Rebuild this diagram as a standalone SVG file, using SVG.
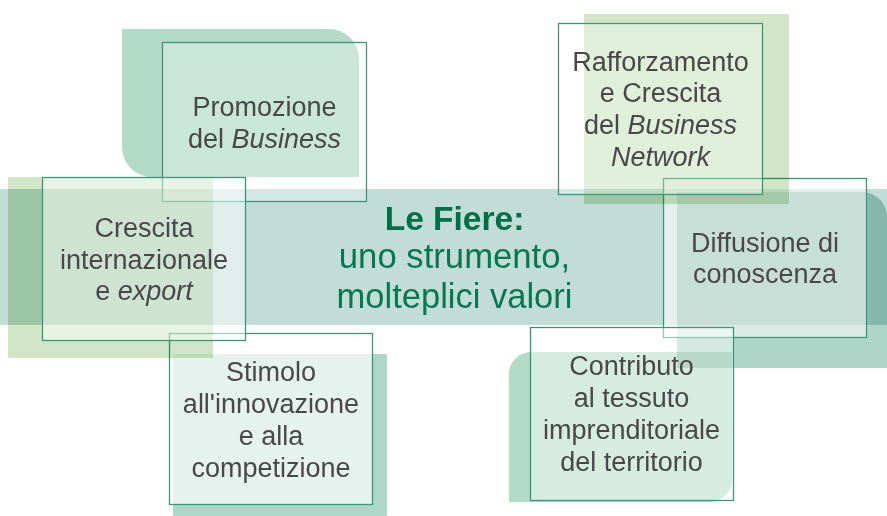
<svg xmlns="http://www.w3.org/2000/svg" width="887" height="516" viewBox="0 0 887 516">
<style>
.bk{mix-blend-mode:multiply}
.box{fill:#ffffff;stroke:#3a9878;stroke-width:1.3}
.t{font-family:"Liberation Sans",Arial,sans-serif;font-size:27px;fill:#484848;text-anchor:middle}
.i{font-style:italic}
.c{font-family:"Liberation Sans",Arial,sans-serif;fill:#06774e;text-anchor:middle}
</style>
<rect width="887" height="516" fill="#ffffff"/>
<rect id="band" x="0" y="189" width="887" height="136" fill="#c2ddd6"/>

<g id="stimolo">
<rect class="bk" x="173" y="354" width="214" height="162" fill="#b0d5c9"/>
<rect class="box" x="169.5" y="333.5" width="203" height="171" fill-opacity="0.68"/>
<text class="t"><tspan x="271" y="381">Stimolo</tspan><tspan x="271" y="413">all'innovazione</tspan><tspan x="271" y="445">e alla</tspan><tspan x="271" y="477">competizione</tspan></text>
</g>

<g id="promozione">
<path class="bk" d="M122,29 H329 A30,30 0 0 1 359,59 V177 H152 A30,30 0 0 1 122,147 Z" fill="#b2dcc7"/>
<rect class="box" x="162.5" y="42.5" width="204" height="159" fill-opacity="0.3"/>
<text class="t"><tspan x="264.5" y="116">Promozione</tspan><tspan x="264.5" y="148">del <tspan class="i">Business</tspan></tspan></text>
</g>

<g id="crescita">
<rect class="bk" x="8" y="177" width="205" height="181" fill="#d0e6c6"/>
<rect class="box" x="42.5" y="177.5" width="203" height="163" fill-opacity="0.5"/>
<text class="t"><tspan x="144" y="237">Crescita</tspan><tspan x="144" y="269">internazionale</tspan><tspan x="144" y="300">e <tspan class="i">export</tspan></tspan></text>
</g>

<g id="diffusione">
<path class="bk" d="M677,192 H862 A25,25 0 0 1 887,217 V368 H677 Z" fill="#afd5c8"/>
<rect class="box" x="663.5" y="178.5" width="203" height="159" fill-opacity="0.55"/>
<text class="t"><tspan x="765" y="252">Diffusione di</tspan><tspan x="765" y="283">conoscenza</tspan></text>
</g>

<g id="rafforzamento">
<rect class="bk" x="584" y="14" width="205" height="190" fill="#d0e6c6"/>
<rect class="box" x="558.5" y="23.5" width="204" height="171" fill-opacity="0.35"/>
<text class="t"><tspan x="660.5" y="71">Rafforzamento</tspan><tspan x="660.5" y="102">e Crescita</tspan><tspan x="660.5" y="134">del <tspan class="i">Business</tspan></tspan><tspan x="660.5" y="166" class="i">Network</tspan></text>
</g>

<g id="contributo">
<path class="bk" d="M531,352 H732 V480 A22,22 0 0 1 710,502 H509 V374 A22,22 0 0 1 531,352 Z" fill="#b2dcc7"/>
<rect class="box" x="530.5" y="327.5" width="203" height="173" fill-opacity="0.47"/>
<text class="t"><tspan x="631.5" y="375">Contributo</tspan><tspan x="631.5" y="407">al tessuto</tspan><tspan x="631.5" y="439">imprenditoriale</tspan><tspan x="631.5" y="471">del territorio</tspan></text>
</g>

<g id="centro">
<text class="c"><tspan x="454.5" y="230" font-size="33.5" font-weight="bold" fill="#006f47">Le Fiere:</tspan><tspan x="454.5" y="268" font-size="34.7">uno strumento,</tspan><tspan x="454.5" y="308" font-size="34.5">molteplici valori</tspan></text>
</g>
<g id="connectors"/>
</svg>
